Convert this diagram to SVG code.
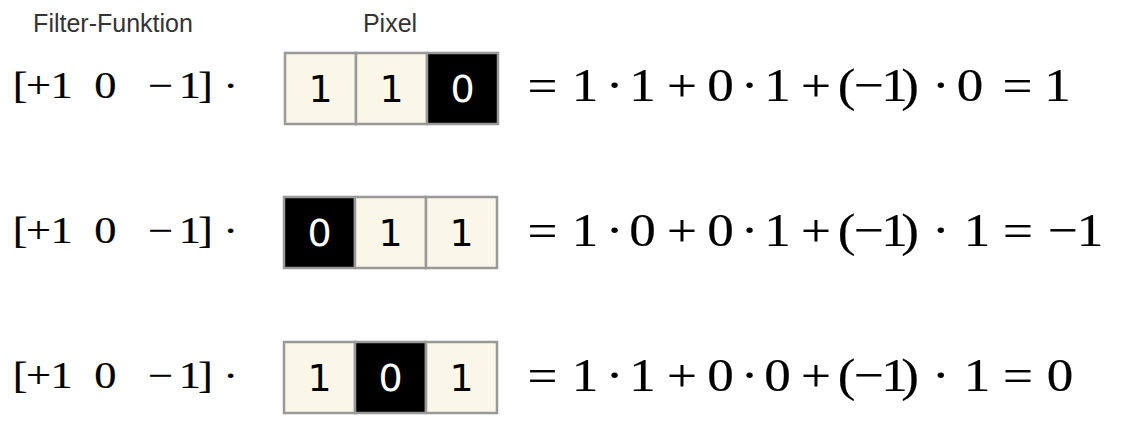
<svg xmlns="http://www.w3.org/2000/svg" width="1124" height="425" viewBox="0 0 1124 425">
<style>
.lbl{font-family:"Liberation Sans",Arial,sans-serif;font-size:25px;fill:#333;text-anchor:middle}
.cell{stroke:#999;stroke-width:2.5}
.w{fill:#FAF7E9}
.b{fill:#000}
.d{font-family:"DejaVu Sans",sans-serif;font-size:38px;text-anchor:middle}
.dw{fill:#000}
.db{fill:#fff}
.m{font-family:"Liberation Serif","Times New Roman",serif;text-anchor:middle;fill:#000;stroke:#000;stroke-width:0.2}
.ml{font-size:37px}
.mr{font-size:47px}
</style>
<rect width="1124" height="425" fill="#fff"/>
<g id="labels">
<text class="lbl" x="113" y="32">Filter-Funktion</text>
<text class="lbl" x="390" y="32">Pixel</text>
</g>
<defs>
<text id="filter" class="m ml" x="16.7 32.1 51.25 87.9 133.75 158.3 171.25 192.1" y="0">[+10−1]·</text>
</defs>
<g id="row1">
<g id="filter1" transform="translate(0,98) scale(1.2,1)"><use href="#filter"/></g>
<g id="pixels1">
<rect class="cell w" x="285" y="53" width="71" height="71"/>
<rect class="cell w" x="356" y="53" width="71" height="71"/>
<rect class="cell b" x="427" y="53" width="71" height="71"/>
<text class="d dw" x="320.5" y="102">1</text>
<text class="d dw" x="391.5" y="102">1</text>
<text class="d db" x="462.5" y="102">0</text>
</g>
<g id="eq1" transform="translate(0,100.5) scale(1.13,1)">
<text class="m mr" x="480.1 517.7 543.8 568.6 603.5 637.6 663.3 688.1 722.1 749.1 769.0 791.6 805.3 832.7 858.4 900.4 935.8" y="0">=1·1+0·1+(−1)·0=1</text>
</g>
</g>
<g id="row2">
<g id="filter2" transform="translate(0,242.5) scale(1.2,1)"><use href="#filter"/></g>
<g id="pixels2">
<rect class="cell b" x="284" y="197" width="71" height="71"/>
<rect class="cell w" x="355" y="197" width="71" height="71"/>
<rect class="cell w" x="426" y="197" width="71" height="71"/>
<text class="d db" x="319.5" y="246">0</text>
<text class="d dw" x="390.5" y="246">1</text>
<text class="d dw" x="461.5" y="246">1</text>
</g>
<g id="eq2" transform="translate(0,246) scale(1.13,1)">
<text class="m mr" x="480.1 517.7 543.8 568.6 603.5 637.6 663.3 688.1 722.1 749.1 769.0 791.6 805.3 832.7 864.6 900.9 940.7 964.6" y="0">=1·0+0·1+(−1)·1=−1</text>
</g>
</g>
<g id="row3">
<g id="filter3" transform="translate(0,387.5) scale(1.2,1)"><use href="#filter"/></g>
<g id="pixels3">
<rect class="cell w" x="284" y="342" width="71" height="71"/>
<rect class="cell b" x="355" y="342" width="71" height="71"/>
<rect class="cell w" x="426" y="342" width="71" height="71"/>
<text class="d dw" x="319.5" y="391">1</text>
<text class="d db" x="390.5" y="391">0</text>
<text class="d dw" x="461.5" y="391">1</text>
</g>
<g id="eq3" transform="translate(0,390.5) scale(1.13,1)">
<text class="m mr" x="480.1 517.7 543.8 568.6 603.5 637.6 663.3 688.1 722.1 749.1 769.0 791.6 805.3 832.7 864.6 900.9 938.1" y="0">=1·1+0·0+(−1)·1=0</text>
</g>
</g>
</svg>
